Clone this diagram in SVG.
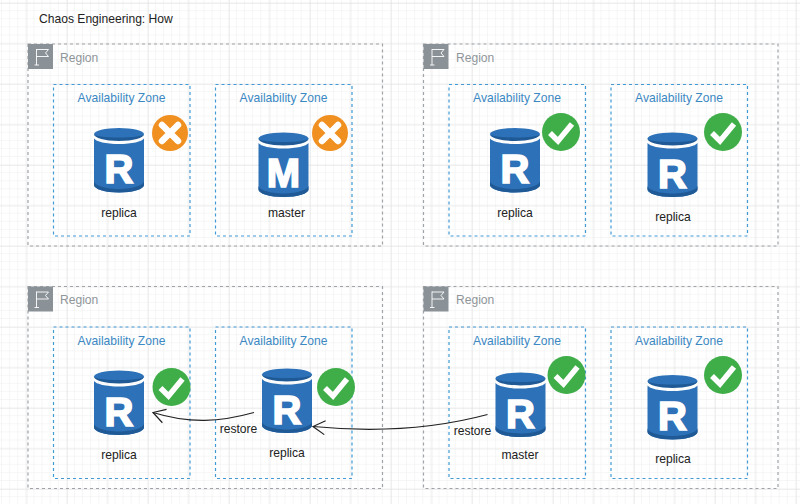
<svg xmlns="http://www.w3.org/2000/svg" xmlns:xlink="http://www.w3.org/1999/xlink" width="800" height="504" viewBox="0 0 800 504">
<style>
text{font-family:"Liberation Sans",Arial,sans-serif;font-size:12.100px;fill:#222}
.m{text-anchor:middle}
.region{fill:none;stroke:#a0a4a8;stroke-dasharray:3 3;stroke-width:1.200}
.az{fill:none;stroke:#3f9ad6;stroke-dasharray:3 3;stroke-width:1.200}
.rl{fill:#8f9599}
.al{fill:#3b88c3;text-anchor:middle}
.let{font-weight:700;font-size:40px;fill:#fff;stroke:#fff;stroke-width:1.700;text-anchor:middle}
.conn{fill:none;stroke:#222;stroke-width:1.200}
</style>
<defs>
<pattern id="minor" width="8.1" height="8.1" patternUnits="userSpaceOnUse" x="2" y="3"><path d="M8.1 0V8.1H0" fill="none" stroke="#eeeeee" stroke-width="1"/></pattern>
<pattern id="major" width="40.5" height="40.5" patternUnits="userSpaceOnUse" x="26.5" y="3"><path d="M0 40.5V0H40.5" fill="none" stroke="#dfdfdf" stroke-width="1"/></pattern>
<g id="cyl">
<path d="M0 10.500C2 13.500 12 16 25 16S48 13.500 50 10.500V57C50 61 39 64.500 25 64.500S0 61 0 57Z" fill="#2d72b8"/>
<path d="M0 53C0 57 11 61 25 61S50 57 50 53V57C50 61 39 64.500 25 64.500S0 61 0 57Z" fill="#1f5a96"/>
<ellipse cx="25" cy="6" rx="25" ry="6" fill="#2d72b8"/>
<path d="M0 6C0 10 11 13 25 13S50 10 50 6C50 8 39 9.500 25 9.500S0 8 0 6Z" fill="#1f5a96"/>
</g>
<g id="ok"><circle r="19" fill="#3fae49"/><path d="M-11 1L-3 9L11-8" fill="none" stroke="#fff" stroke-width="5.500"/></g>
<g id="no"><circle r="18" fill="#f09020"/><path d="M-8-8L8 8M8-8L-8 8" fill="none" stroke="#fff" stroke-width="6.500" stroke-linecap="round"/></g>
<g id="flag"><rect width="25" height="25" fill="#8a9298"/><path d="M8.500 21V5M6.500 21H11M8.500 5.500H20.500L17.500 9L20.500 12.500H8.500" fill="none" stroke="#fff" stroke-width="0.900"/></g>
<marker id="arrow" viewBox="0 0 14 16" refX="13" refY="8" markerWidth="14" markerHeight="16" markerUnits="userSpaceOnUse" orient="auto"><path d="M1 1L13 8L1 15" fill="none" stroke="#222" stroke-width="1.200"/></marker>
</defs>
<rect width="800" height="504" fill="#fff"/>
<rect width="800" height="504" fill="url(#minor)"/>
<rect width="800" height="504" fill="url(#major)"/>
<g id="title"><text x="39" y="23">Chaos Engineering: How</text></g>

<g id="region-1"><rect class="region" x="28" y="44" width="354.500" height="202"/><use href="#flag" x="28" y="44"/><text class="rl" x="60" y="62">Region</text></g>
<g id="region-2"><rect class="region" x="423.500" y="44" width="354.500" height="202"/><use href="#flag" x="423.500" y="44"/><text class="rl" x="456" y="62">Region</text></g>
<g id="region-3"><rect class="region" x="28" y="286.500" width="354.500" height="202"/><use href="#flag" x="28" y="286.500"/><text class="rl" x="60" y="304">Region</text></g>
<g id="region-4"><rect class="region" x="423.500" y="286.500" width="354.500" height="202"/><use href="#flag" x="423.500" y="286.500"/><text class="rl" x="456" y="304">Region</text></g>

<g id="az-1"><rect class="az" x="53.500" y="84.500" width="136.500" height="151.500"/><text class="al" x="121.500" y="102">Availability Zone</text></g>
<g id="az-2"><rect class="az" x="215.500" y="84.500" width="136.500" height="151.500"/><text class="al" x="283.500" y="102">Availability Zone</text></g>
<g id="az-3"><rect class="az" x="449" y="84.500" width="136.500" height="151.500"/><text class="al" x="517" y="102">Availability Zone</text></g>
<g id="az-4"><rect class="az" x="611" y="84.500" width="136.500" height="151.500"/><text class="al" x="679" y="102">Availability Zone</text></g>
<g id="az-5"><rect class="az" x="53.500" y="327" width="136.500" height="151.500"/><text class="al" x="121.500" y="345">Availability Zone</text></g>
<g id="az-6"><rect class="az" x="215.500" y="327" width="136.500" height="151.500"/><text class="al" x="283.500" y="345">Availability Zone</text></g>
<g id="az-7"><rect class="az" x="449" y="327" width="136.500" height="151.500"/><text class="al" x="517" y="345">Availability Zone</text></g>
<g id="az-8"><rect class="az" x="611" y="327" width="136.500" height="151.500"/><text class="al" x="679" y="345">Availability Zone</text></g>

<g id="db-1"><use href="#cyl" x="94" y="128"/><text class="let" x="119" y="183">R</text><use href="#no" x="170" y="133"/><text class="m" x="119" y="217">replica</text></g>
<g id="db-2"><use href="#cyl" x="258.500" y="132.500"/><text class="let" x="283.500" y="186.500">M</text><use href="#no" x="330" y="133"/><text class="m" x="286.500" y="217">master</text></g>
<g id="db-3"><use href="#cyl" x="490" y="128"/><text class="let" x="515" y="183">R</text><use href="#ok" x="561" y="132"/><text class="m" x="515" y="216.500">replica</text></g>
<g id="db-4"><use href="#cyl" x="647.500" y="132.500"/><text class="let" x="672.500" y="187.500">R</text><use href="#ok" x="723" y="132"/><text class="m" x="673" y="221">replica</text></g>
<g id="db-5"><use href="#cyl" x="94" y="370.500"/><text class="let" x="119" y="425.500">R</text><use href="#ok" x="171.500" y="387"/><text class="m" x="119" y="459">replica</text></g>
<g id="db-6"><use href="#cyl" x="262" y="368.500"/><text class="let" x="287" y="423.500">R</text><use href="#ok" x="336" y="387"/><text class="m" x="287" y="457">replica</text></g>
<g id="db-7"><use href="#cyl" x="495.500" y="372.500"/><text class="let" x="520.500" y="427.500">R</text><use href="#ok" x="566.500" y="375"/><text class="m" x="520" y="459">master</text></g>
<g id="db-8"><use href="#cyl" x="647.500" y="375"/><text class="let" x="672.500" y="430">R</text><use href="#ok" x="723" y="375"/><text class="m" x="673" y="463">replica</text></g>

<g id="connectors">
<path class="conn" d="M254 412.500C220 422 190 424 153 412.500" marker-end="url(#arrow)"/>
<path class="conn" d="M487.500 414.500C430 430 370 432 313 426.500" marker-end="url(#arrow)"/>
</g>
<g id="edge-labels">
<text class="m" x="238.500" y="433">restore</text>
<text class="m" x="472.500" y="435">restore</text>
</g>
</svg>
